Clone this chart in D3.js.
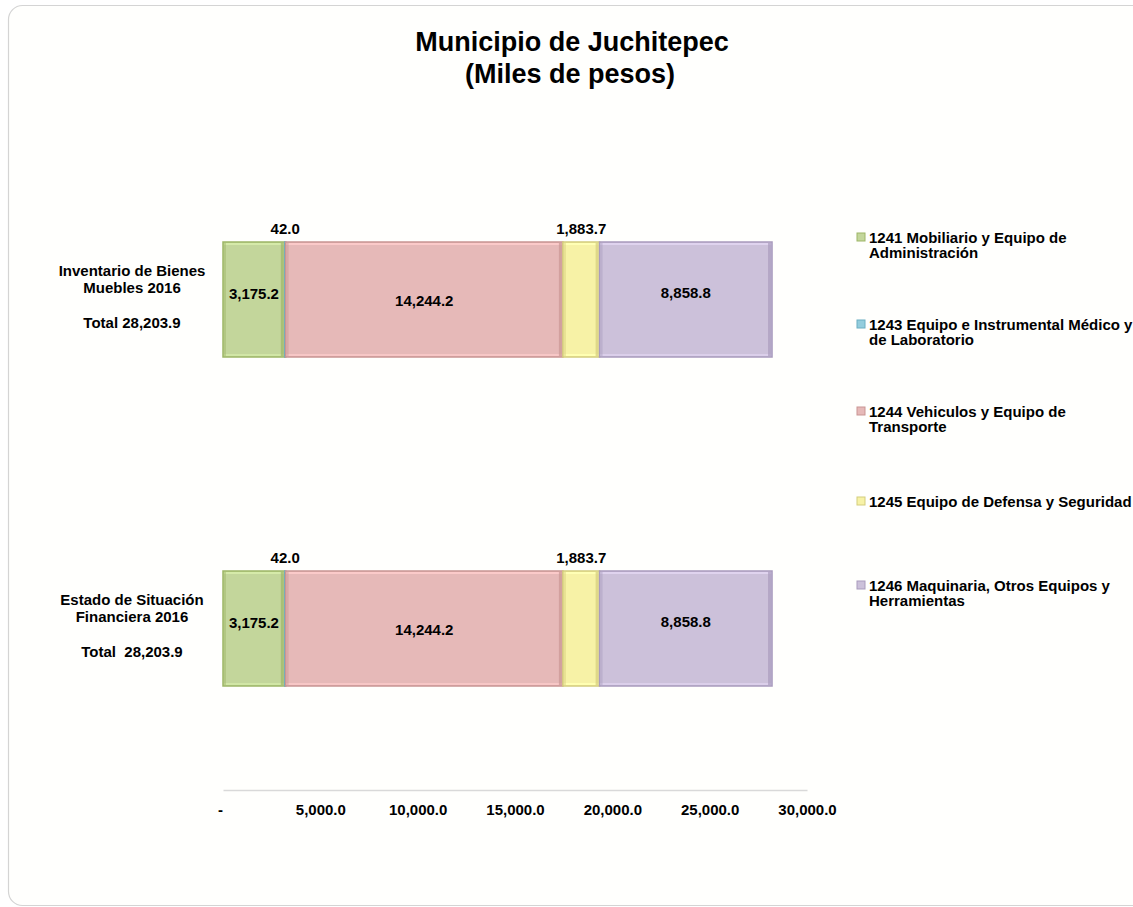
<!DOCTYPE html>
<html>
<head>
<meta charset="utf-8">
<script src="https://cdn.jsdelivr.net/npm/d3@7"></script>
<style>
  html, body { margin: 0; padding: 0; background: #ffffff; }
  text { font-family: "Liberation Sans", Arial, sans-serif; font-weight: bold; fill: #000; }
</style>
</head>
<body>
<svg width="1133" height="907"></svg>
<script>
  // chart data
  var categories = ['Inventario de Bienes Muebles 2016', 'Estado de Situación Financiera 2016'];
  var categoryLines = [
    ['Inventario de Bienes', 'Muebles 2016', 'Total 28,203.9'],
    ['Estado de Situación', 'Financiera 2016', 'Total  28,203.9']
  ];
  var seriesNames = [
    '1241 Mobiliario y Equipo de Administración',
    '1243 Equipo e Instrumental Médico y de Laboratorio',
    '1244 Vehiculos y Equipo de Transporte',
    '1245 Equipo de Defensa y Seguridad',
    '1246 Maquinaria, Otros Equipos y Herramientas'
  ];
  var legendLines = [
    ['1241 Mobiliario y Equipo de', 'Administración'],
    ['1243 Equipo e Instrumental Médico y', 'de Laboratorio'],
    ['1244 Vehiculos y Equipo de', 'Transporte'],
    ['1245 Equipo de Defensa y Seguridad'],
    ['1246 Maquinaria, Otros Equipos y', 'Herramientas']
  ];
  var series1241 = [3175.2, 3175.2];
  var series1243 = [42.0, 42.0];
  var series1244 = [14244.2, 14244.2];
  var series1245 = [1883.7, 1883.7];
  var series1246 = [8858.8, 8858.8];
  var tickValues = [0, 5000, 10000, 15000, 20000, 25000, 30000];

  var colors = ['#c3d69b', '#93cddd', '#e6b9b8', '#f7f2a6', '#ccc1da'];
  var edges = ['#9db666', '#6aaec2', '#c99593', '#d4cd7c', '#a99bbd'];
  // small segments get their label above the bar
  var labelAbove = [false, true, false, true, false];
  var labelDy = [-6, 0, 1, 0, -7];

  var svg = d3.select('svg');

  // frame
  svg.append('rect')
    .attr('x', 8.5).attr('y', 5.5)
    .attr('width', 1140).attr('height', 900)
    .attr('rx', 14).attr('ry', 14)
    .attr('fill', '#fffffd')
    .attr('stroke', '#d4d4d4')
    .attr('stroke-width', 1.2);

  // title
  svg.append('text')
    .attr('x', 572).attr('y', 51)
    .attr('text-anchor', 'middle')
    .style('font-size', '27px')
    .text('Municipio de Juchitepec');
  svg.append('text')
    .attr('x', 570).attr('y', 83)
    .attr('text-anchor', 'middle')
    .style('font-size', '27px')
    .text('(Miles de pesos)');

  var rows = categories.map(function (c, i) {
    return {
      category: c,
      s0: series1241[i], s1: series1243[i], s2: series1244[i], s3: series1245[i], s4: series1246[i]
    };
  });
  var keys = ['s0', 's1', 's2', 's3', 's4'];
  var stacked = d3.stack().keys(keys)(rows);

  var x = d3.scaleLinear().domain([0, 30000]).range([223, 807]);
  var y = d3.scaleBand().domain(categories)
    .range([242, 242 + 329 + 115])
    .paddingInner(214 / 329)
    .paddingOuter(0);

  var fmt = d3.format(',.1f');

  var layers = svg.append('g').selectAll('g')
    .data(stacked)
    .enter().append('g');

  layers.each(function (layer, si) {
    var g = d3.select(this);
    var seg = g.selectAll('g')
      .data(layer)
      .enter().append('g');

    seg.append('rect')
      .attr('x', function (d) { return x(d[0]); })
      .attr('y', function (d) { return y(d.data.category); })
      .attr('width', function (d) { return Math.max(1, x(d[1]) - x(d[0])); })
      .attr('height', y.bandwidth())
      .attr('fill', colors[si])
      .attr('stroke', edges[si])
      .attr('stroke-width', 1.5);

    // bevel: light top/bottom rim, darker right/left rim
    seg.append('rect')
      .attr('x', function (d) { return x(d[0]) + 1; })
      .attr('y', function (d) { return y(d.data.category) + 1; })
      .attr('width', function (d) { return Math.max(0, x(d[1]) - x(d[0]) - 2); })
      .attr('height', 2)
      .attr('fill', d3.color(colors[si]).brighter(0.25));
    seg.append('rect')
      .attr('x', function (d) { return x(d[0]) + 1; })
      .attr('y', function (d) { return y(d.data.category) + y.bandwidth() - 3; })
      .attr('width', function (d) { return Math.max(0, x(d[1]) - x(d[0]) - 2); })
      .attr('height', 2)
      .attr('fill', d3.color(colors[si]).brighter(0.2));
    seg.append('rect')
      .attr('x', function (d) { return Math.max(x(d[0]), x(d[1]) - 4); })
      .attr('y', function (d) { return y(d.data.category) + 1; })
      .attr('width', function (d) { return Math.min(3, Math.max(0, x(d[1]) - x(d[0]) - 1)); })
      .attr('height', y.bandwidth() - 2)
      .attr('fill', edges[si])
      .attr('opacity', 0.7);
    seg.append('rect')
      .attr('x', function (d) { return x(d[0]) + 1; })
      .attr('y', function (d) { return y(d.data.category) + 1; })
      .attr('width', 2)
      .attr('height', y.bandwidth() - 2)
      .attr('fill', edges[si])
      .attr('opacity', 0.45);

    seg.append('text')
      .attr('x', function (d) { return (x(d[0]) + x(d[1])) / 2; })
      .attr('y', function (d) {
        var top = y(d.data.category);
        return labelAbove[si] ? top - 8 : top + y.bandwidth() / 2 + 5 + labelDy[si];
      })
      .attr('text-anchor', 'middle')
      .style('font-size', '15px')
      .text(function (d) { return fmt(d[1] - d[0]); });
  });

  // category labels
  categories.forEach(function (c, i) {
    var top = y(c);
    var lines = categoryLines[i];
    var ys = [top + 34, top + 51, top + 86];
    lines.forEach(function (t, j) {
      svg.append('text')
        .attr('x', 132).attr('y', ys[j])
        .attr('text-anchor', 'middle')
        .style('font-size', '15px')
        .style('white-space', 'pre')
        .attr('xml:space', 'preserve')
        .text(t);
    });
  });

  // x axis
  var axis = d3.axisBottom(x)
    .tickValues(tickValues)
    .tickSize(0)
    .tickSizeOuter(0)
    .tickPadding(14)
    .tickFormat(function (v) { return v === 0 ? '-' : fmt(v); });
  var ax = svg.append('g')
    .attr('transform', 'translate(0,790)')
    .call(axis);
  ax.select('.domain').attr('stroke', '#d9d9d9').attr('stroke-width', 1.5);
  ax.selectAll('text')
    .style('font-family', '"Liberation Sans", Arial, sans-serif')
    .style('font-weight', 'bold')
    .style('font-size', '15px')
    .attr('fill', '#000');
  ax.selectAll('.tick').filter(function (d) { return d === 0; })
    .select('text').attr('x', -3);

  // legend
  var legend = svg.append('g');
  legendLines.forEach(function (lines, i) {
    var center = 245 + i * 87;
    var firstBase = lines.length > 1 ? center - 2 : center + 1;
    legend.append('rect')
      .attr('x', 857).attr('y', firstBase - 10)
      .attr('width', 8).attr('height', 8)
      .attr('fill', colors[i])
      .attr('stroke', edges[i])
      .attr('stroke-width', 1);
    lines.forEach(function (t, j) {
      legend.append('text')
        .attr('x', 869).attr('y', firstBase + j * 15)
        .style('font-size', '15px')
        .text(t);
    });
  });
</script>
</body>
</html>
